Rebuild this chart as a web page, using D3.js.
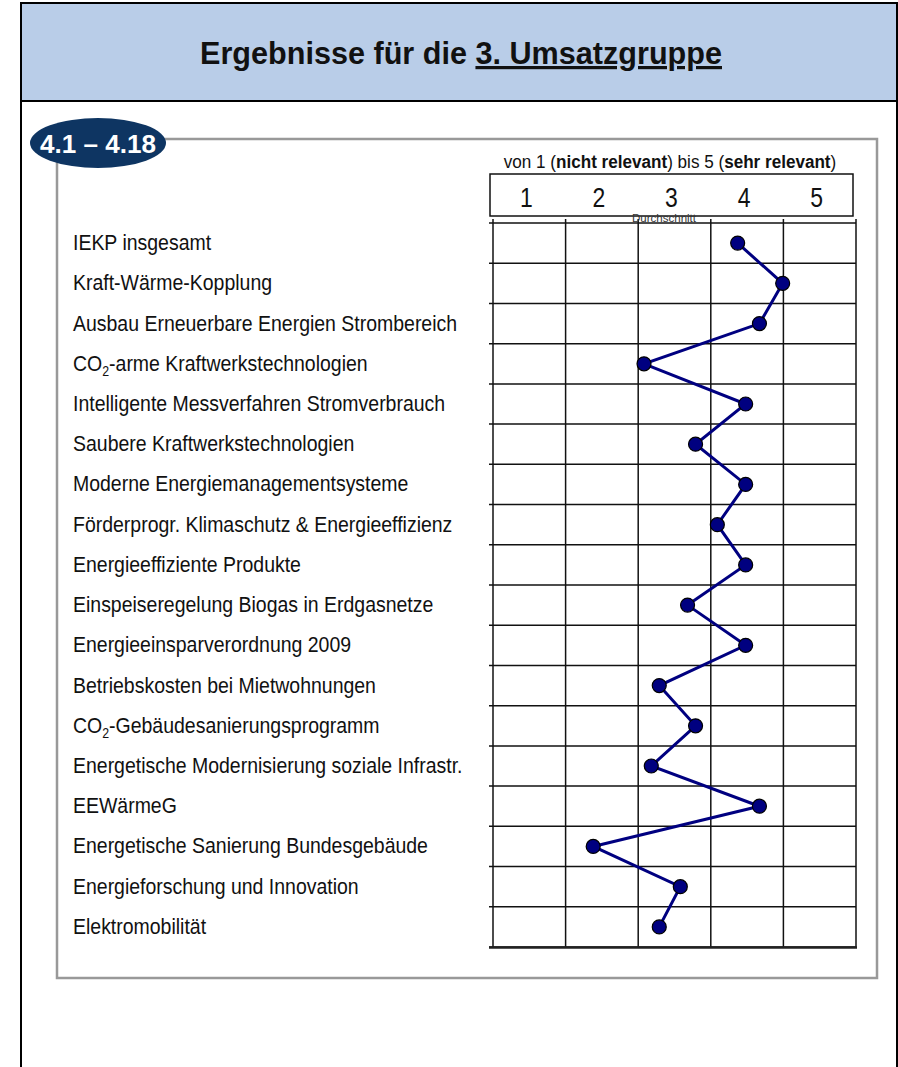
<!DOCTYPE html>
<html>
<head>
<meta charset="utf-8">
<script src="https://cdn.jsdelivr.net/npm/d3@7"></script>
<style>
  body { margin: 0; background: #fff; }
  text { font-family: "Liberation Sans", Arial, sans-serif; }
</style>
</head>
<body>
<div id="viz"></div>
<script>
// chart data
var labels = [
  'IEKP insgesamt',
  'Kraft-Wärme-Kopplung',
  'Ausbau Erneuerbare Energien Strombereich',
  'CO2-arme Kraftwerkstechnologien',
  'Intelligente Messverfahren Stromverbrauch',
  'Saubere Kraftwerkstechnologien',
  'Moderne Energiemanagementsysteme',
  'Förderprogr. Klimaschutz & Energieeffizienz',
  'Energieeffiziente Produkte',
  'Einspeiseregelung Biogas in Erdgasnetze',
  'Energieeinsparverordnung 2009',
  'Betriebskosten bei Mietwohnungen',
  'CO2-Gebäudesanierungsprogramm',
  'Energetische Modernisierung soziale Infrastr.',
  'EEWärmeG',
  'Energetische Sanierung Bundesgebäude',
  'Energieforschung und Innovation',
  'Elektromobilität'
];
var values = [3.87, 4.49, 4.17, 2.58, 3.98, 3.29, 3.98, 3.59, 3.98, 3.18,
              3.98, 2.79, 3.29, 2.68, 4.17, 1.88, 3.08, 2.79];
var scaleTicks = [1, 2, 3, 4, 5];

var title1 = 'Ergebnisse für die ';
var title2 = '3. Umsatzgruppe';
var badgeText = '4.1 – 4.18';

var svg = d3.select('#viz').append('svg')
  .attr('width', 898)
  .attr('height', 1067);

// page frame + header band
svg.append('rect')
  .attr('x', 21).attr('y', 3).attr('width', 876).attr('height', 1080)
  .attr('fill', '#fff').attr('stroke', '#000').attr('stroke-width', 2);
svg.append('rect')
  .attr('x', 21).attr('y', 3).attr('width', 876).attr('height', 98)
  .attr('fill', '#b9cde8').attr('stroke', '#000').attr('stroke-width', 2);

var title = svg.append('text')
  .attr('x', 461).attr('y', 64)
  .attr('text-anchor', 'middle')
  .attr('font-size', 32)
  .attr('font-weight', 'bold')
  .attr('textLength', 522)
  .attr('lengthAdjust', 'spacingAndGlyphs')
  .attr('fill', '#111');
title.append('tspan').text(title1);
title.append('tspan').attr('text-decoration', 'underline').text(title2);

// gray panel
svg.append('rect')
  .attr('x', 57).attr('y', 139).attr('width', 820).attr('height', 839)
  .attr('fill', 'none').attr('stroke', '#999').attr('stroke-width', 2.5);

// badge
svg.append('ellipse')
  .attr('cx', 98).attr('cy', 143).attr('rx', 68).attr('ry', 25)
  .attr('fill', '#0e3562');
svg.append('text')
  .attr('x', 98).attr('y', 153)
  .attr('text-anchor', 'middle')
  .attr('font-size', 26)
  .attr('font-weight', 'bold')
  .attr('textLength', 116)
  .attr('lengthAdjust', 'spacingAndGlyphs')
  .attr('fill', '#fff')
  .text(badgeText);

// scales
var x = d3.scaleLinear().domain([0.5, 5.5]).range([493, 856]);
var xHead = d3.scaleLinear().domain([0.5, 5.5]).range([490, 853]);
var y = d3.scaleBand().domain(labels).range([223, 947]);
var yc = function (d) { return y(d) + y.bandwidth() / 2; };

// scale caption
var cap = svg.append('text')
  .attr('transform', 'translate(670,168) scale(0.9,1)')
  .attr('text-anchor', 'middle')
  .attr('font-size', 19)
  .attr('fill', '#111');
cap.append('tspan').text('von 1 (');
cap.append('tspan').attr('font-weight', 'bold').text('nicht relevant');
cap.append('tspan').text(') bis 5 (');
cap.append('tspan').attr('font-weight', 'bold').text('sehr relevant');
cap.append('tspan').text(')');

// header box with 1..5
svg.append('rect')
  .attr('x', xHead(0.5)).attr('y', 174)
  .attr('width', xHead(5.5) - xHead(0.5)).attr('height', 42)
  .attr('fill', '#fff').attr('stroke', '#111').attr('stroke-width', 1.5);
svg.selectAll('.headNum')
  .data(scaleTicks)
  .enter().append('text')
  .attr('class', 'headNum')
  .attr('transform', function (d) { return 'translate(' + xHead(d) + ',207) scale(0.82,1)'; })
  .attr('text-anchor', 'middle')
  .attr('font-size', 28)
  .attr('fill', '#111')
  .text(function (d) { return d; });

// grid
var colEdges = [0.5].concat(scaleTicks.map(function (d) { return d + 0.5; }));
var rowEdges = labels.map(function (d) { return y(d); }).concat([y.range()[1]]);

var grid = svg.append('g').attr('class', 'grid');
grid.selectAll('.vline')
  .data(colEdges)
  .enter().append('line')
  .attr('class', 'vline')
  .attr('x1', function (d) { return x(d); })
  .attr('x2', function (d) { return x(d); })
  .attr('y1', 219).attr('y2', y.range()[1])
  .attr('stroke', '#111').attr('stroke-width', 1.5);
grid.selectAll('.hline')
  .data(rowEdges)
  .enter().append('line')
  .attr('class', 'hline')
  .attr('x1', x(0.5) - 4).attr('x2', x(5.5))
  .attr('y1', function (d) { return d; })
  .attr('y2', function (d) { return d; })
  .attr('stroke', '#111').attr('stroke-width', 1.5);
// heavier bottom line
grid.append('line')
  .attr('x1', x(0.5) - 4).attr('x2', x(5.5) + 1)
  .attr('y1', y.range()[1] + 0.5).attr('y2', y.range()[1] + 0.5)
  .attr('stroke', '#222').attr('stroke-width', 2.5);

svg.append('text')
  .attr('x', 664).attr('y', 222)
  .attr('text-anchor', 'middle')
  .attr('font-size', 10)
  .attr('textLength', 64)
  .attr('lengthAdjust', 'spacingAndGlyphs')
  .attr('fill', '#333')
  .text('Durchschnitt');

// row labels (narrow look)
var lab = svg.selectAll('.rowLabel')
  .data(labels)
  .enter().append('text')
  .attr('class', 'rowLabel')
  .attr('transform', function (d) { return 'translate(73,' + (yc(d) + 7) + ') scale(0.885,1)'; })
  .attr('font-size', 22)
  .attr('fill', '#111');
lab.each(function (d) {
  var t = d3.select(this);
  if (d.indexOf('CO2') === 0) {
    t.append('tspan').text('CO');
    t.append('tspan').attr('font-size', 14).attr('dy', 5).text('2');
    t.append('tspan').attr('dy', -5).text(d.slice(3));
  } else {
    t.text(d);
  }
});

// profile line + points
var line = d3.line()
  .x(function (d, i) { return x(values[i]); })
  .y(function (d) { return yc(d); });

svg.append('path')
  .datum(labels)
  .attr('d', line)
  .attr('fill', 'none')
  .attr('stroke', '#000080')
  .attr('stroke-width', 3);

svg.selectAll('.dot')
  .data(labels)
  .enter().append('circle')
  .attr('class', 'dot')
  .attr('cx', function (d, i) { return x(values[i]); })
  .attr('cy', function (d) { return yc(d); })
  .attr('r', 7)
  .attr('fill', '#000080')
  .attr('stroke', '#000')
  .attr('stroke-width', 1.2);
</script>
</body>
</html>
